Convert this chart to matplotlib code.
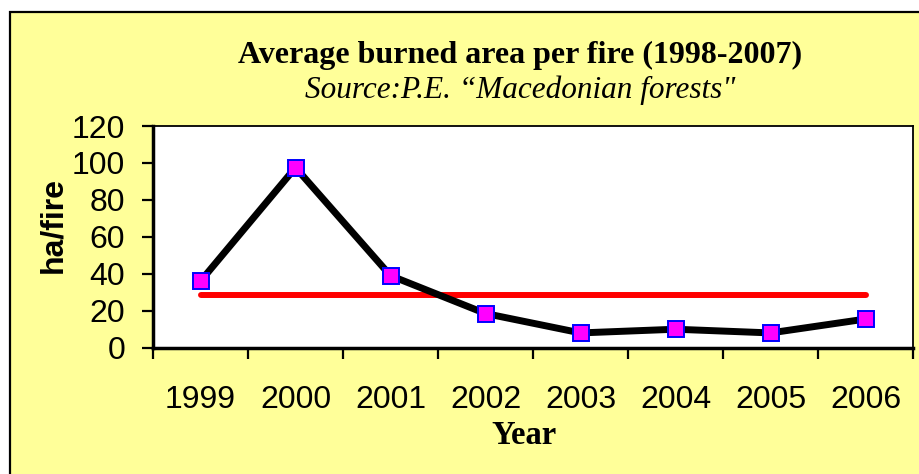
import matplotlib.pyplot as plt
from matplotlib.patches import Rectangle

######################### DATA #########################
years = ["1999", "2000", "2001", "2002", "2003", "2004", "2005", "2006"]
ha_per_fire = [36, 97.5, 39, 18.5, 8, 10, 8, 15.5]
average = 28.5

W, H = 919, 474
fig = plt.figure(figsize=(W / 100, H / 100), dpi=100)
fig.patch.set_facecolor("white")

# yellow chart area with black frame (cut off on the right and bottom)
fig.patches.append(Rectangle((10 / W, -0.1), 1.2, 1 - 12 / H + 0.1,
                             transform=fig.transFigure, facecolor="#FFFF99",
                             edgecolor="black", linewidth=1.6, zorder=-1))

ax = fig.add_axes([153 / W, (H - 347.7) / H, (913 - 153) / W, (347.7 - 126) / H])
ax.set_facecolor("white")
ax.set_zorder(1)

x = list(range(len(years)))
ax.plot(x, ha_per_fire, color="black", linewidth=5, zorder=3,
        marker="s", markersize=11.5, markerfacecolor="#FF00FF",
        markeredgecolor="#0000FF", markeredgewidth=1.4)
ax.plot([x[0], x[-1]], [average, average], color="#FF0000", linewidth=4.3,
        solid_capstyle="round", zorder=2)

ax.set_xlim(-0.5, len(years) - 0.5)
ax.set_ylim(0, 120)
ax.set_yticks(range(0, 121, 20))

# tick marks between categories, labels at centres
ax.set_xticks([i - 0.5 for i in range(len(years) + 1)])
ax.set_xticklabels([])
ax.set_xticks(x, minor=True)
ax.set_xticklabels(years, minor=True)
ax.tick_params(axis="x", which="major", direction="out", length=8, width=1.6)
ax.tick_params(axis="x", which="minor", length=0, pad=27)
ax.tick_params(axis="y", direction="out", length=8, width=1.6, pad=12)
for lab in ax.get_xticklabels(minor=True) + ax.get_yticklabels():
    lab.set_fontfamily("Liberation Sans")
    lab.set_fontsize(23)

ax.spines["left"].set_linewidth(2.5)
ax.spines["bottom"].set_linewidth(2.5)
ax.spines["top"].set_linewidth(1.3)
ax.spines["right"].set_linewidth(1.3)

fig.text(520 / W, 1 - 55 / H, "Average burned area per fire (1998-2007)",
         ha="center", va="center", fontfamily="Liberation Serif",
         fontweight="bold", fontsize=23)
fig.text(520 / W, 1 - 90 / H, "Source:P.E. \u201cMacedonian forests\"",
         ha="center", va="center", fontfamily="Liberation Serif",
         fontstyle="italic", fontsize=22.5)
fig.text(524 / W, 1 - 436 / H, "Year", ha="center", va="center",
         fontfamily="Liberation Serif", fontweight="bold", fontsize=23.5)
fig.text(53 / W, 1 - 225 / H, "ha/fire", ha="center", va="center", rotation=90,
         fontfamily="Liberation Sans", fontweight="bold", fontsize=23)

fig.savefig("out.png", dpi=100)
